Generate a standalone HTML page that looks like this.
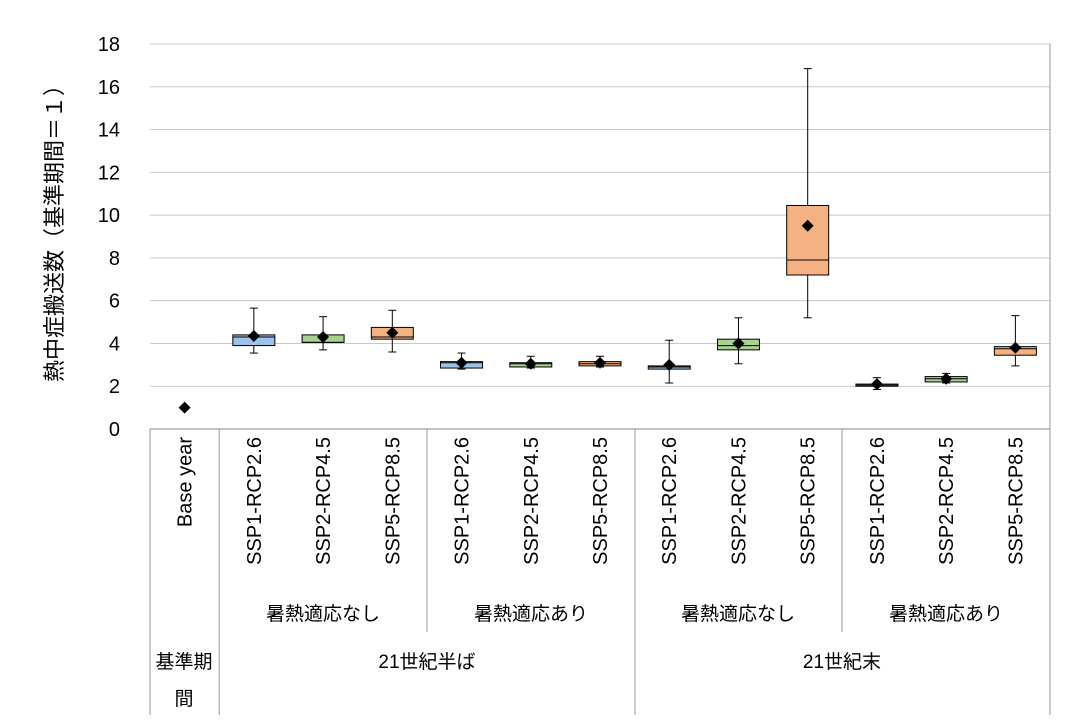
<!DOCTYPE html>
<html><head><meta charset="utf-8"><style>
body{margin:0;background:#fff;}
svg text{font-family:"Liberation Sans","Noto Sans CJK JP",sans-serif;fill:#000;}
</style></head><body>
<svg id="c" width="1084" height="720" xmlns="http://www.w3.org/2000/svg"></svg>
<script>
const categories=["Base year","SSP1-RCP2.6","SSP2-RCP4.5","SSP5-RCP8.5","SSP1-RCP2.6","SSP2-RCP4.5","SSP5-RCP8.5","SSP1-RCP2.6","SSP2-RCP4.5","SSP5-RCP8.5","SSP1-RCP2.6","SSP2-RCP4.5","SSP5-RCP8.5"];
const whiskerLow=[null,3.55,3.7,3.6,2.8,2.85,2.9,2.15,3.05,5.2,1.85,2.15,2.95];
const boxLow=[null,3.9,4.05,4.2,2.85,2.9,2.95,2.8,3.7,7.2,2.0,2.2,3.45];
const medians=[null,4.3,4.05,4.3,3.1,3.05,3.05,2.9,3.9,7.9,2.05,2.35,3.75];
const boxHigh=[null,4.4,4.4,4.75,3.15,3.1,3.15,2.95,4.2,10.45,2.1,2.45,3.85];
const whiskerHigh=[null,5.65,5.25,5.55,3.55,3.4,3.4,4.15,5.2,16.85,2.4,2.6,5.3];
const means=[1,4.35,4.3,4.5,3.1,3.05,3.1,3.0,4.0,9.5,2.1,2.35,3.8];
const yTicks=[0,2,4,6,8,10,12,14,16,18];
const colors=["#000","#9dc3e6","#a9d18e","#f4b183","#9dc3e6","#a9d18e","#f4b183","#9dc3e6","#a9d18e","#f4b183","#9dc3e6","#a9d18e","#f4b183"];
const NS="http://www.w3.org/2000/svg",svg=document.getElementById('c');
const L=150,R=1050,T=44,B=429,cw=(R-L)/categories.length;
const y=v=>B-(v/18)*(B-T), x=i=>L+cw*(i+0.5);
function mk(t,a,txt){const e=document.createElementNS(NS,t);for(const k in a)e.setAttribute(k,a[k]);if(txt!=null)e.textContent=txt;svg.appendChild(e);return e;}
yTicks.forEach(v=>{
 const g=mk('line',{x1:L,x2:R,y1:y(v),y2:y(v),stroke:v==0?'#888':'#c8c8c8','stroke-width':1});
 
 
 const t=mk('text',{x:120,y:y(v)+7,'text-anchor':'end','font-size':20},v);
 
 
});
[[L,429,715],[219.2,429,715],[427,429,632],[635,429,715],[842,429,632],[R,44,715]].forEach(s=>{
 const l=mk('line',{x1:s[0],x2:s[0],y1:s[1],y2:s[2],stroke:'#999','stroke-width':1});
 
 
});
const yt=mk('text',{x:0,y:0,'font-size':22,'text-anchor':'middle',transform:'translate(62,228) rotate(-90)'},'熱中症搬送数（基準期間＝１）');


categories.forEach((c,i)=>{
 const t=mk('text',{x:0,y:0,'font-size':20,'text-anchor':'end',transform:`translate(${x(i)+7},437) rotate(-90)`},c);
 
 
 const cx=x(i),bw=42;
 if(boxLow[i]!=null){
  const w=mk('line',{x1:cx,x2:cx,y1:y(whiskerLow[i]),y2:y(whiskerHigh[i]),stroke:'#000','stroke-width':1});
  
  
  [whiskerLow[i],whiskerHigh[i]].forEach(v=>{const c2=mk('line',{x1:cx-4,x2:cx+4,y1:y(v),y2:y(v),stroke:'#000'});
   
   });
  const b=mk('rect',{x:cx-bw/2,y:y(boxHigh[i]),width:bw,height:y(boxLow[i])-y(boxHigh[i]),fill:colors[i],stroke:'#000','stroke-width':1});
  
  
  const m=mk('line',{x1:cx-bw/2,x2:cx+bw/2,y1:y(medians[i]),y2:y(medians[i]),stroke:'#000'});
  
  
 }
 const my=y(means[i]);
 const d=mk('polygon',{points:`${cx},${my-6} ${cx+6},${my} ${cx},${my+6} ${cx-6},${my}`,fill:'#000'});
 
 
});
[['暑熱適応なし',323,620],['暑熱適応あり',531,620],['暑熱適応なし',738,620],['暑熱適応あり',946,620],['21世紀半ば',427,668],['21世紀末',842,668],['基準期',184,668],['間',184,705]].forEach(g=>{
 const t=mk('text',{x:g[1],y:g[2],'font-size':19,'text-anchor':'middle'},g[0]);
 
 
});
</script>
</body></html>
